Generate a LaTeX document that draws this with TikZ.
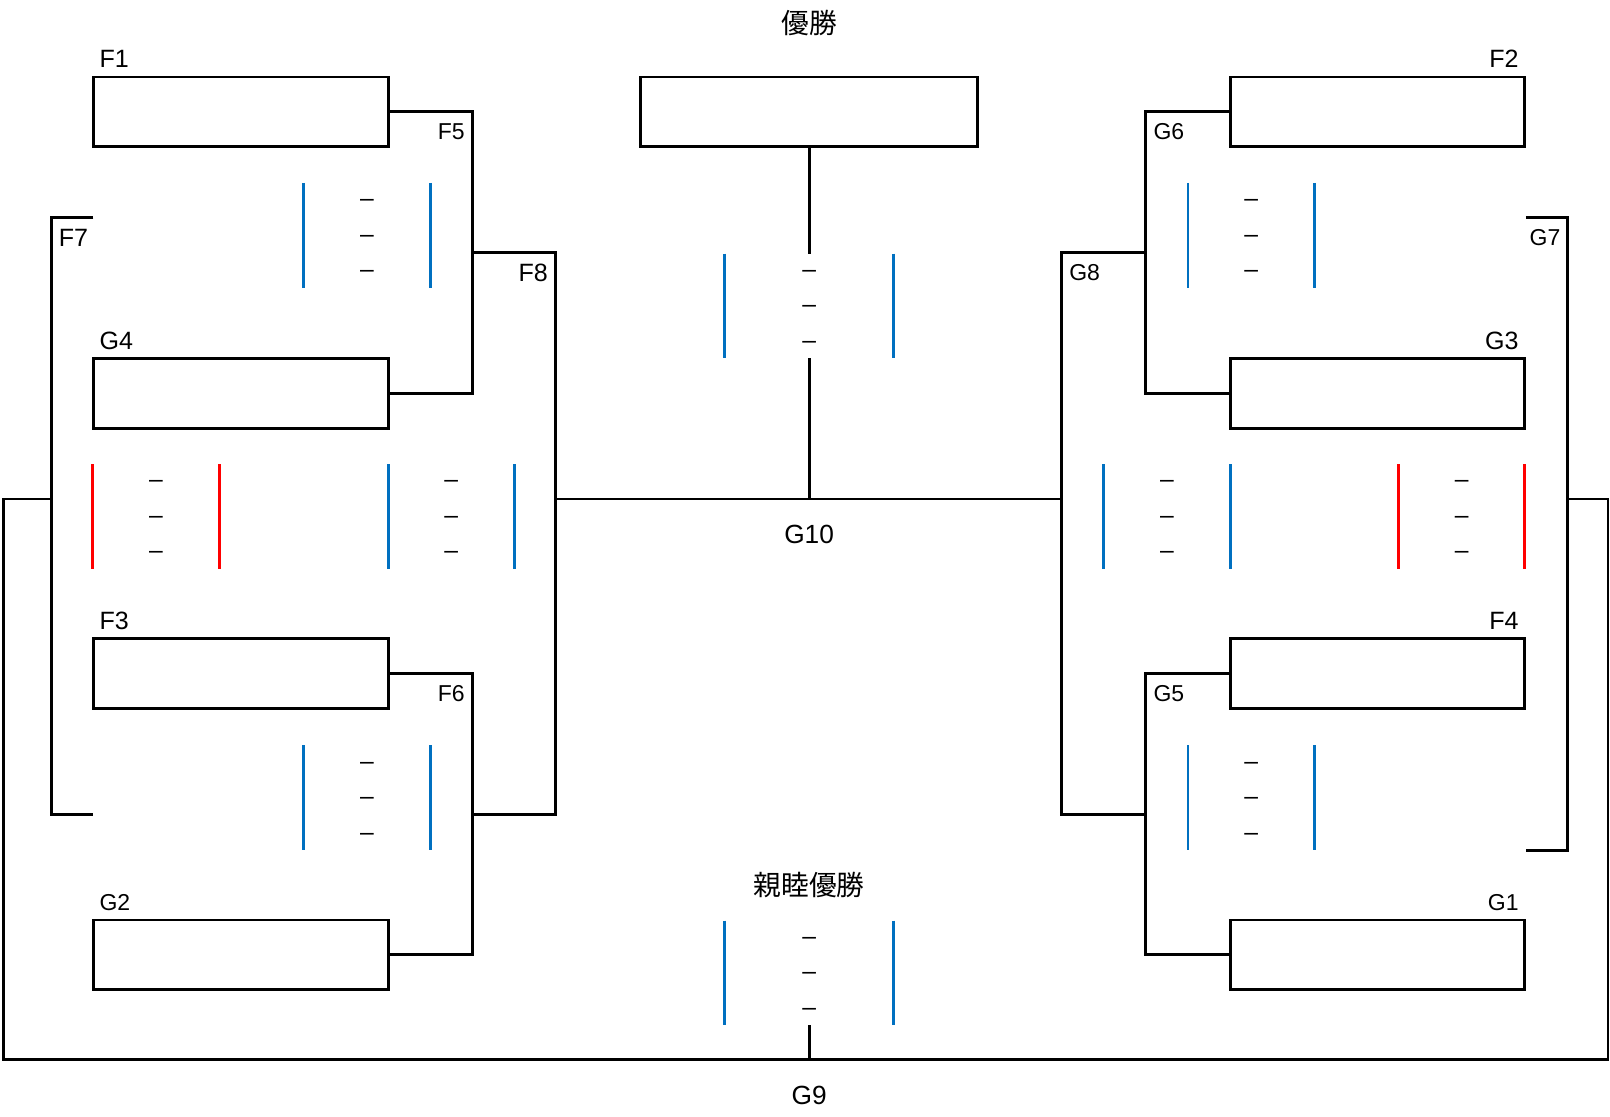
\documentclass[tikz,border=0pt]{standalone}
\usepackage{fontspec}
\setmainfont{Liberation Sans}
\newfontfamily\jpfont{Noto Sans CJK JP}
\usepackage{tikz}
\usetikzlibrary{positioning}
\definecolor{barblue}{HTML}{0070C0}
\definecolor{barred}{HTML}{FF0000}

\begin{document}
\begin{tikzpicture}[
  x=0.5pt, y=-0.5pt, line width=1.4pt,
  every node/.style={align=center, inner sep=3pt},
  teambox/.style={draw, minimum width=143.5pt, minimum height=34pt, inner sep=0pt},
  finalbox/.style={draw, minimum width=164pt, minimum height=34pt, inner sep=0pt},
  teamlabel/.style={font=\fontsize{12.2}{14}\selectfont},
  gamelabel/.style={font=\fontsize{11.2}{13}\selectfont},
  roundlabel/.style={font=\fontsize{12.8}{15}\selectfont},
  titletext/.style={font=\jpfont\fontsize{13.5}{16}\selectfont},
  scorebox/.style={inner sep=0pt, outer sep=0pt, minimum width=61.5pt, minimum height=51pt,
    font=\fontsize{12}{17.25}\selectfont, text height=41.2pt, text depth=0pt},
  bluebar/.style={barblue},
  redbar/.style={barred}
]
  \useasboundingbox (0,0) rectangle (1568,1087);

  % team entries
  \node[teambox] (f1) at (234.5,109) {};
  \node[teambox] (g4) at (234.5,383) {};
  \node[teambox] (f3) at (234.5,656) {};
  \node[teambox] (g2) at (234.5,930) {};
  \node[teambox] (f2) at (1341.5,109) {};
  \node[teambox] (g3) at (1341.5,383) {};
  \node[teambox] (f4) at (1341.5,656) {};
  \node[teambox] (g1) at (1341.5,930) {};
  \node[finalbox] (champ) at (788,109) {};

  \node[teamlabel, anchor=south west] (lf1) at (f1.north west) {F1};
  \node[teamlabel, anchor=south west] (lg4) at (g4.north west) {G4};
  \node[teamlabel, anchor=south west] (lf3) at (f3.north west) {F3};
  \node[gamelabel, anchor=south west] (lg2) at (g2.north west) {G2};
  \node[teamlabel, anchor=south east] (lf2) at (f2.north east) {F2};
  \node[teamlabel, anchor=south east] (lg3) at (g3.north east) {G3};
  \node[teamlabel, anchor=south east] (lf4) at (f4.north east) {F4};
  \node[gamelabel, anchor=south east] (lg1) at (g1.north east) {G1};

  % score blocks
  \node[scorebox] (sa) at (357.5,229) {–\\–\\–};
  \node[scorebox] (sb) at (152,503) {–\\–\\–};
  \node[scorebox] (sc) at (439.5,503) {–\\–\\–};
  \node[scorebox] (sd) at (357.5,777) {–\\–\\–};
  \node[scorebox, minimum width=82pt] (se) at (788,298) {–\\–\\–};
  \node[scorebox, minimum width=82pt] (sf) at (788,947.5) {–\\–\\–};
  \node[scorebox] (sg) at (1218.5,229) {–\\–\\–};
  \node[scorebox] (sh) at (1136.5,503) {–\\–\\–};
  \node[scorebox] (si) at (1423.5,503) {–\\–\\–};
  \node[scorebox] (sj) at (1218.5,777) {–\\–\\–};

  \draw[bluebar] (sa.north west) -- (sa.south west) (sa.north east) -- (sa.south east);
  \draw[redbar] (sb.north west) -- (sb.south west) (sb.north east) -- (sb.south east);
  \draw[bluebar] (sc.north west) -- (sc.south west) (sc.north east) -- (sc.south east);
  \draw[bluebar] (sd.north west) -- (sd.south west) (sd.north east) -- (sd.south east);
  \draw[bluebar] (se.north west) -- (se.south west) (se.north east) -- (se.south east);
  \draw[bluebar] (sf.north west) -- (sf.south west) (sf.north east) -- (sf.south east);
  \draw[bluebar] (sg.north west) -- (sg.south west) (sg.north east) -- (sg.south east);
  \draw[bluebar] (sh.north west) -- (sh.south west) (sh.north east) -- (sh.south east);
  \draw[redbar] (si.north west) -- (si.south west) (si.north east) -- (si.south east);
  \draw[bluebar] (sj.north west) -- (sj.south west) (sj.north east) -- (sj.south east);

  % bracket joints
  \coordinate (f5) at (460,246);
  \coordinate (f6) at (460,793);
  \coordinate (f8) at (541,486);
  \coordinate (g6) at (1116,246);
  \coordinate (g5) at (1116,793);
  \coordinate (g8) at (1034,486);
  \coordinate (g10) at (788,486);
  \coordinate (f7top) at (91,212);
  \coordinate (f7bot) at (91,793);
  \coordinate (f7) at (50,486);
  \coordinate (g7top) at (1486,212);
  \coordinate (g7bot) at (1486,828);
  \coordinate (g7) at (1527,486);
  \coordinate (g9) at (788,1032);

  \draw (f1.east) -| (f5) |- (g4.east);
  \draw (f3.east) -| (f6) |- (g2.east);
  \draw (f5) -| (f8) |- (f6);
  \draw (f2.west) -| (g6) |- (g3.west);
  \draw (f4.west) -| (g5) |- (g1.west);
  \draw (g6) -| (g8) |- (g5);
  \draw (f8) -- (g8);
  \draw (champ.south) -- (se.north);
  \draw (se.south) -- (g10);
  \draw (f7top) -| (f7) |- (f7bot);
  \draw (g7top) -| (g7) |- (g7bot);
  \draw (f7) -- (3,486) |- (g9) -| (1566,486) -- (g7);
  \draw (sf.south) -- (g9);

  \node[gamelabel, anchor=north east, yshift=-2pt] (lf5) at (f5 |- f1.east) {F5};
  \node[gamelabel, anchor=north east, yshift=-2pt] (lf6) at (f6 |- f3.east) {F6};
  \node[teamlabel, anchor=north east, yshift=-2pt] (lf8) at (f8 |- f5) {F8};
  \node[teamlabel, anchor=north west, yshift=-2pt] (lf7) at (f7 |- f7top) {F7};
  \node[gamelabel, anchor=north west, yshift=-2pt] (lg6) at (g6 |- f2.west) {G6};
  \node[gamelabel, anchor=north west, yshift=-2pt] (lg5) at (g5 |- f4.west) {G5};
  \node[gamelabel, anchor=north west, yshift=-2pt] (lg8) at (g8 |- g6) {G8};
  \node[gamelabel, anchor=north east, yshift=-2pt] (lg7) at (g7 |- g7top) {G7};
  \node[roundlabel, below=9pt of g10] (lg10) {G10};
  \node[roundlabel, below=9pt of g9] (lg9) {G9};

  \node[titletext] (lchamp) at (788,22) {優勝};
  \node[titletext] (lfriend) at (788,862) {親睦優勝};
\end{tikzpicture}
\end{document}
